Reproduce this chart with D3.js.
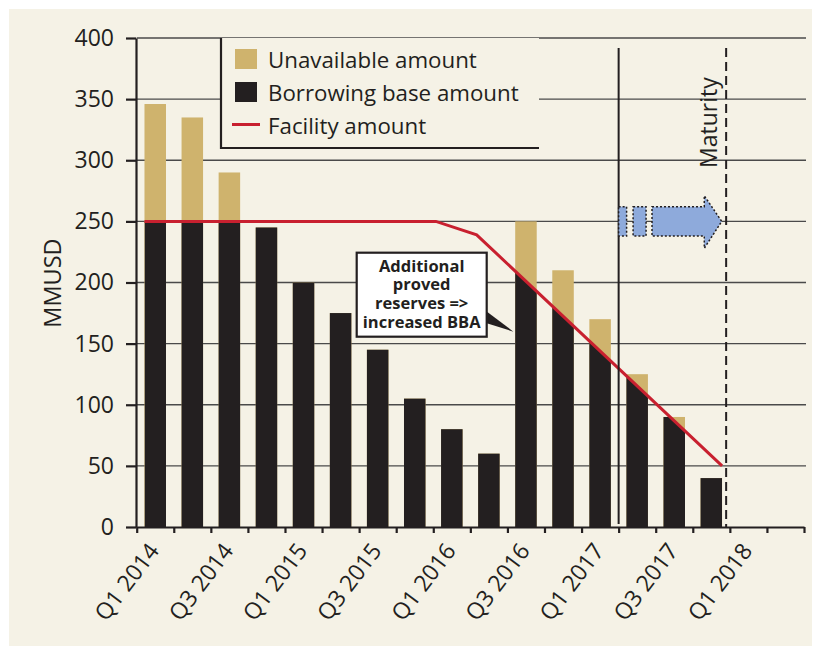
<!DOCTYPE html>
<html><head><meta charset="utf-8">
<script src="https://cdn.jsdelivr.net/npm/d3@7"></script>
<style>
html,body{margin:0;padding:0;background:#ffffff;}
text{font-family:"Open Sans",sans-serif;fill:#231f20;}
</style>
</head><body>
<svg id="chart" width="817" height="648"></svg>
<script>
// ---------- data ----------
const quarters = ["Q1 2014","Q2 2014","Q3 2014","Q4 2014","Q1 2015","Q2 2015","Q3 2015","Q4 2015",
                  "Q1 2016","Q2 2016","Q3 2016","Q4 2016","Q1 2017","Q2 2017","Q3 2017","Q4 2017",
                  "Q1 2018","Q2 2018"];
const totalAmount = [346,335,290,245,200,175,145,105,80,60,250,210,170,125,90,40,0,0];
// facility line: positions in quarters (0 = start of Q1 2014) and amounts
const facilityPos = [0.21, 8.07, 9.17, 15.79];
const facilityAmount = [250, 250, 239, 50];
const yTicks = [0,50,100,150,200,250,300,350,400];
const xLabelIdx = [0,2,4,6,8,10,12,14,16];
const todayPos = 13;       // start of Q2 2017
const maturityPos = 15.9;
const legendLabels = ["Unavailable amount","Borrowing base amount","Facility amount"];
const annotationLines = ["Additional","proved","reserves =>","increased BBA"];
const arrowLevel = 250;

// ---------- styles ----------
const C = {bg:"#f5f2e6", gold:"#cfb36d", black:"#231f20", red:"#c8202f", grid:"#4a4a4a", blue:"#8eaadb"};

const svg = d3.select("#chart");
svg.append("rect").attr("x",9).attr("y",9).attr("width",803).attr("height",637).attr("fill",C.bg);

const X0 = 136.7, X1 = 804, Y0 = 527, Y1 = 38;
const x = d3.scaleBand().domain(quarters).range([X0, X1]).paddingInner(0.42).paddingOuter(0.21);
const xq = d3.scaleLinear().domain([0, quarters.length]).range([X0, X1]);
const y = d3.scaleLinear().domain([0, 400]).range([Y0, Y1]);

// gridlines
svg.append("g").selectAll("line").data(yTicks.filter(d => d > 0)).join("line")
  .attr("x1", X0).attr("x2", 806).attr("y1", d => y(d)).attr("y2", d => y(d))
  .attr("stroke", C.grid).attr("stroke-width", 1.4);

// clip: area under facility line
const facility = facilityPos.map((p, i) => ({p, v: facilityAmount[i]}));
const defs = svg.append("defs");
defs.append("clipPath").attr("id","underFacility").append("path")
  .attr("d", d3.area().x(d => xq(d.p)).y0(Y0 + 2).y1(d => y(d.v))(facility));

// bars: full total (gold), then portion under the facility (black = borrowing base)
const bars = quarters.map((q, i) => ({q, v: totalAmount[i]})).filter(d => d.v > 0);
svg.append("g").selectAll("rect").data(bars).join("rect")
  .attr("x", d => x(d.q)).attr("width", x.bandwidth())
  .attr("y", d => y(d.v)).attr("height", d => y(0) - y(d.v)).attr("fill", C.gold);
svg.append("g").attr("clip-path","url(#underFacility)").selectAll("rect").data(bars).join("rect")
  .attr("x", d => x(d.q)).attr("width", x.bandwidth())
  .attr("y", d => y(d.v)).attr("height", d => y(0) - y(d.v)).attr("fill", C.black);

// facility line
svg.append("path").datum(facility)
  .attr("d", d3.line().x(d => xq(d.p)).y(d => y(d.v)))
  .attr("fill","none").attr("stroke", C.red).attr("stroke-width", 3);

// today + maturity lines
svg.append("line").attr("x1", xq(todayPos)).attr("x2", xq(todayPos)).attr("y1", 48).attr("y2", 524)
  .attr("stroke", C.black).attr("stroke-width", 2);
svg.append("line").attr("x1", xq(maturityPos)).attr("x2", xq(maturityPos)).attr("y1", 48).attr("y2", 527)
  .attr("stroke", C.black).attr("stroke-width", 2).attr("stroke-dasharray","9,5");
svg.append("text").attr("transform", `translate(${xq(maturityPos) - 9},168) rotate(-90)`)
  .attr("font-size", 23).text("Maturity");

// blue dotted arrow
const ay0 = y(arrowLevel + 12), ay1 = y(arrowLevel - 12), ahy0 = y(arrowLevel + 21), ahy1 = y(arrowLevel - 22), ayc = y(arrowLevel);
const arrowG = svg.append("g").attr("fill", C.blue).attr("stroke", C.black).attr("stroke-width", 1.5).attr("stroke-dasharray","2,2");
arrowG.append("rect").attr("x", xq(todayPos)).attr("y", ay0).attr("width", xq(todayPos+0.215)-xq(todayPos)).attr("height", ay1-ay0);
arrowG.append("rect").attr("x", xq(todayPos+0.39)).attr("y", ay0).attr("width", xq(todayPos+0.74)-xq(todayPos+0.39)).attr("height", ay1-ay0);
arrowG.append("path").attr("d", d3.line()([
  [xq(todayPos+0.9), ay0],[xq(todayPos+2.31), ay0],[xq(todayPos+2.31), ahy0],[xq(todayPos+2.78), ayc],
  [xq(todayPos+2.31), ahy1],[xq(todayPos+2.31), ay1],[xq(todayPos+0.9), ay1]]) + "Z");

// y axis
const yAxis = svg.append("g").attr("transform", `translate(${X0 - 0.7},0)`)
  .call(d3.axisLeft(y).tickValues(yTicks).tickSize(10).tickSizeOuter(0).tickPadding(12));
yAxis.select(".domain").attr("stroke", C.black).attr("stroke-width", 2.2);
yAxis.selectAll(".tick line").attr("stroke", C.black).attr("stroke-width", 2.2);
yAxis.selectAll(".tick text").attr("font-size", 23).attr("font-family", '"Open Sans",sans-serif').attr("fill", C.black);

// x axis
const xAxis = svg.append("g").attr("transform", `translate(0,${Y0})`)
  .call(d3.axisBottom(xq).tickValues(d3.range(0, quarters.length + 1)).tickSize(6).tickSizeOuter(0).tickFormat(""));
xAxis.select(".domain").attr("stroke", C.black).attr("stroke-width", 2.2);
xAxis.selectAll(".tick line").attr("stroke", C.black).attr("stroke-width", 2.2);
svg.append("g").selectAll("text").data(xLabelIdx).join("text")
  .attr("transform", i => `translate(${x(quarters[i]) + x.bandwidth()/2 + 5},${Y0 + 24}) rotate(-53)`)
  .attr("text-anchor","end").attr("font-size", 23).text(i => quarters[i]);

// y label
svg.append("text").attr("transform","translate(61,283) rotate(-90)").attr("text-anchor","middle")
  .attr("font-size", 23.5).text("MMUSD");

// legend
const lg = svg.append("g");
lg.append("rect").attr("x", 221).attr("y", Y1).attr("width", 318).attr("height", 110).attr("fill", C.bg);
lg.append("path").attr("d", `M221,${Y1}V148H539`).attr("fill","none").attr("stroke", C.black).attr("stroke-width", 2.2);
lg.append("rect").attr("x",235).attr("y",49).attr("width",22).attr("height",20).attr("fill",C.gold);
lg.append("rect").attr("x",235).attr("y",82).attr("width",22).attr("height",20).attr("fill",C.black);
lg.append("line").attr("x1",232).attr("x2",260).attr("y1",124.5).attr("y2",124.5).attr("stroke",C.red).attr("stroke-width",3);
lg.selectAll("text").data(legendLabels).join("text")
  .attr("x", 268).attr("y", (d,i) => 67.5 + i*33).attr("font-size", 22.3).text(d => d);

// annotation
const an = svg.append("g");
an.append("path").attr("d", d3.line()([[486, 311],[xq(10.16), y(159.8)],[486, 323]]) + "Z").attr("fill", C.black);
an.append("rect").attr("x", 356.7).attr("y", 252.7).attr("width", 130).attr("height", 84)
  .attr("fill","#ffffff").attr("stroke", C.black).attr("stroke-width", 2.2);
an.selectAll("text").data(annotationLines).join("text")
  .attr("x", 421.7).attr("y", (d,i) => 271.5 + i*18.7).attr("text-anchor","middle")
  .attr("font-size", 16.5).attr("font-weight", 700).text(d => d);
</script>
</body></html>
